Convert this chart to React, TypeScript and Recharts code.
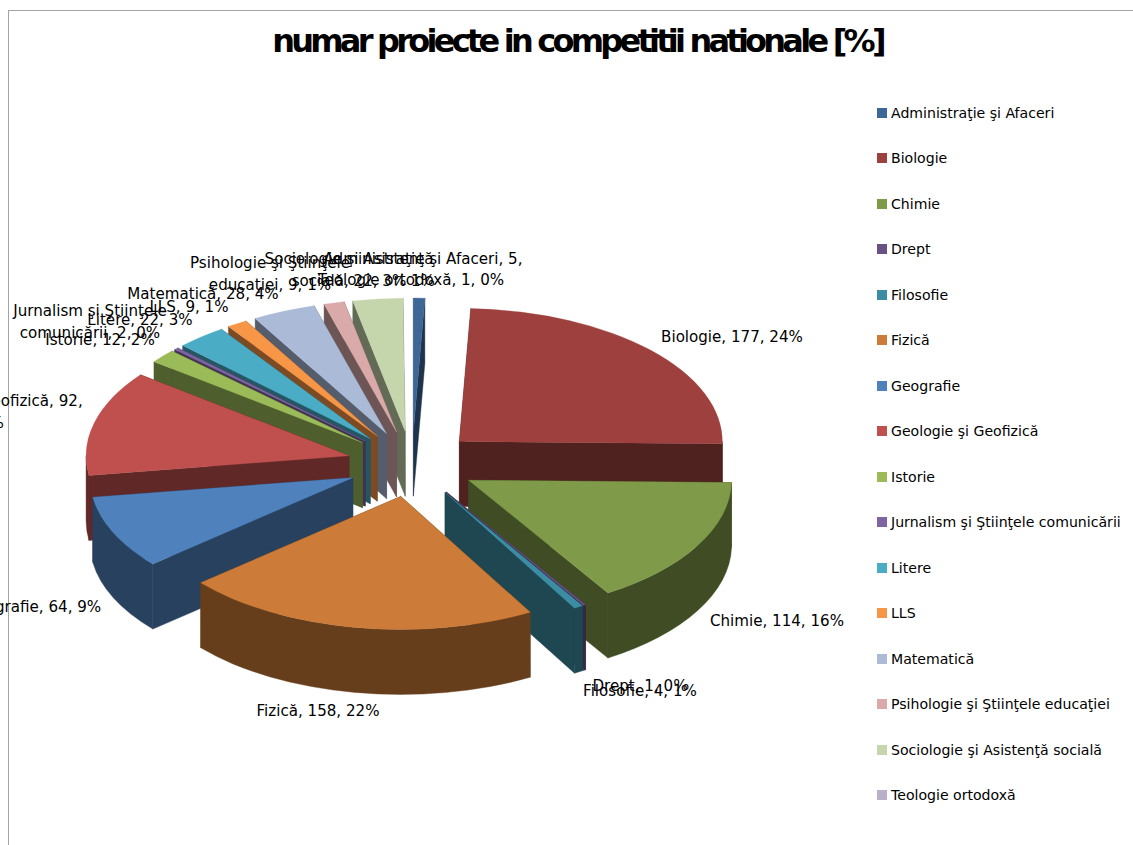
import React from "react";
import { PieChart, Pie, Legend } from "recharts";

const names = [
  "Administraţie şi Afaceri", "Biologie", "Chimie", "Drept", "Filosofie", "Fizică", "Geografie",
  "Geologie şi Geofizică", "Istorie", "Jurnalism şi Ştiinţele comunicării", "Litere", "LLS",
  "Matematică", "Psihologie şi Ştiinţele educaţiei", "Sociologie şi Asistenţă socială", "Teologie ortodoxă",
];
const values = [5, 177, 114, 1, 4, 158, 64, 92, 12, 2, 22, 9, 28, 9, 22, 1];
const percents = [1, 24, 16, 0, 1, 22, 9, 13, 2, 0, 3, 1, 4, 1, 3, 0];
const colors = [
  "#3E6797", "#9E413E", "#7F9A48", "#695185", "#3C8DA3", "#CC7B38", "#4F81BD", "#C0504D",
  "#9BBB59", "#8064A2", "#4BACC6", "#F79646", "#AABAD7", "#D9AAA9", "#C6D6AC", "#BAB0C9",
];
// back slices first; the Teologie sliver does not show in the reference
const paintOrder = [14, 13, 0, 12, 11, 10, 9, 8, 1, 7, 2, 6, 3, 4, 5];

const data = names.map((name, i) => ({ name, value: values[i], percent: percents[i], color: colors[i] }));

const W = 1133, H = 845;
const CX = 412, CY = 464, RX = 263, TILT = 0.506, DEPTH = 65, EXPLODE = 65;
const FONT = "'DejaVu Sans', sans-serif";
const LABEL_SIZE = 15.1;

// x = centre of text, y = baseline of first line, wrap = words on first line
const labelLayout: Record<number, { x: number; y: number; wrap?: number }> = {
  0: { x: 423, y: 264, wrap: 4 },
  1: { x: 732, y: 342 },
  2: { x: 777, y: 626 },
  3: { x: 640, y: 691 },
  4: { x: 640, y: 696 },
  5: { x: 318, y: 716 },
  6: { x: 33, y: 612 },
  7: { x: -13, y: 406, wrap: 4 },
  8: { x: 100, y: 345 },
  9: { x: 90, y: 316, wrap: 3 },
  10: { x: 140, y: 325 },
  11: { x: 189, y: 312 },
  12: { x: 203, y: 299 },
  13: { x: 270, y: 268, wrap: 3 },
  14: { x: 349, y: 264, wrap: 3 },
  15: { x: 411, y: 285 },
};

function shade(hex: string, f: number) {
  const n = parseInt(hex.slice(1), 16);
  const c = (s: number) => Math.round(((n >> s) & 255) * f);
  return `rgb(${c(16)},${c(8)},${c(0)})`;
}

function Slice3D(props: any, only: string) {
  if (props.name !== only) return <g />;
  const { cx, cy, outerRadius: r, startAngle, endAngle } = props;
  const clockwise = (a: number) => 90 - a; // degrees clockwise from the top
  const ts = clockwise(startAngle), te = clockwise(endAngle), tm = (ts + te) / 2;
  const rad = Math.PI / 180;
  const ax = cx + EXPLODE * Math.sin(tm * rad);
  const ay = cy - EXPLODE * TILT * Math.cos(tm * rad);
  const pt = (t: number) => [ax + r * Math.sin(t * rad), ay - r * TILT * Math.cos(t * rad)];
  const [x1, y1] = pt(ts), [x2, y2] = pt(te);
  const large = te - ts > 180 ? 1 : 0;
  const ry = r * TILT;
  const base = props.payload?.color ?? props.color;
  const dark = shade(base, 0.5);
  const t1 = Math.max(ts, 90), t2 = Math.min(te, 270);
  let wall = null;
  if (t1 < t2) {
    const [fx1, fy1] = pt(t1), [fx2, fy2] = pt(t2);
    wall = (
      <path
        d={`M${fx1},${fy1}A${r},${ry} 0 0 1 ${fx2},${fy2}L${fx2},${fy2 + DEPTH}A${r},${ry} 0 0 0 ${fx1},${fy1 + DEPTH}Z`}
        fill={dark} stroke={dark} strokeWidth={0.4}
      />
    );
  }
  return (
    <g>
      <path d={`M${ax},${ay}L${x1},${y1}L${x1},${y1 + DEPTH}L${ax},${ay + DEPTH}Z`} fill={dark} stroke={dark} strokeWidth={0.4} />
      <path d={`M${ax},${ay}L${x2},${y2}L${x2},${y2 + DEPTH}L${ax},${ay + DEPTH}Z`} fill={dark} stroke={dark} strokeWidth={0.4} />
      {wall}
      <path d={`M${ax},${ay}L${x1},${y1}A${r},${ry} 0 ${large} 1 ${x2},${y2}Z`} fill={base} stroke={base} strokeWidth={0.3} />
    </g>
  );
}

function renderLabel(props: any) {
  const i = props.index;
  const layout = labelLayout[i];
  const words = `${names[i]}, ${values[i]}, ${percents[i]}%`.split(" ");
  const lines = layout.wrap ? [words.slice(0, layout.wrap).join(" "), words.slice(layout.wrap).join(" ")] : [words.join(" ")];
  return (
    <text key={i} x={layout.x} y={layout.y} textAnchor="middle" fontFamily={FONT} fontSize={LABEL_SIZE} fill="#000">
      {lines.map((l, j) => (
        <tspan key={j} x={layout.x} dy={j === 0 ? 0 : 22}>{l}</tspan>
      ))}
    </text>
  );
}

function LegendBox() {
  return (
    <div style={{ fontFamily: FONT, fontSize: 14.1, color: "#000" }}>
      {names.map((n, i) => (
        <div key={n} style={{ height: 45.5, display: "flex", alignItems: "center", whiteSpace: "nowrap" }}>
          <span style={{ width: 10, height: 10, background: colors[i], marginRight: 4, flex: "none" }} />
          <span>{n}</span>
        </div>
      ))}
    </div>
  );
}

export default function App() {
  return (
    <div style={{ position: "absolute", left: 0, top: 0, width: W, height: H, background: "#fff", overflow: "hidden" }}>
      <div style={{ position: "absolute", left: 8, top: 10, width: W, height: H, borderLeft: "1.5px solid #a3a3a3", borderTop: "1.5px solid #a3a3a3" }} />
      <div style={{ position: "absolute", left: 0, top: 0 }}>
        <PieChart width={W} height={H} margin={{ top: 0, right: 0, bottom: 0, left: 0 }}>
          <text x={577.5} y={52} textAnchor="middle" fontFamily={FONT} fontWeight="bold" fontSize={32} letterSpacing={-3.76} fill="#000">
            numar proiecte in competitii nationale [%]
          </text>
          {paintOrder.map((idx, k) => (
            <Pie
              key={names[idx]}
              data={data}
              dataKey="value"
              nameKey="name"
              cx={CX}
              cy={CY}
              innerRadius={0}
              outerRadius={RX}
              startAngle={90}
              endAngle={-270}
              paddingAngle={0}
              stroke="none"
              isAnimationActive={false}
              legendType="none"
              labelLine={false}
              label={k === paintOrder.length - 1 ? renderLabel : false}
              shape={(p: any) => Slice3D(p, names[idx])}
            />
          ))}
          <Legend
            content={() => <LegendBox />}
            wrapperStyle={{ position: "absolute", left: 877, top: 90, right: "auto", bottom: "auto", width: 256 }}
          />
        </PieChart>
      </div>
    </div>
  );
}
